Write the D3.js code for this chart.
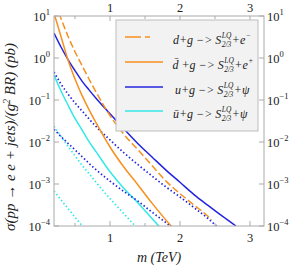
<html>
<script src="https://d3js.org/d3.v7.min.js"></script>
<style>
body {margin: 0; background: white;}
text {font-family: "Liberation Serif", "Times New Roman", serif; fill: #222;}
</style>
<body>
<svg width=292 height=266></svg>
<script>
// cross sections in pb vs leptoquark mass in TeV
var mDm = [0.27, 0.3, 0.4, 0.5, 0.6, 0.7, 0.8, 1.0, 1.2, 1.4, 1.6, 1.8, 2.0, 2.2, 2.4, 2.45];
var sDm = [11.7, 8.7, 3.31, 1.41, 0.661, 0.316, 0.155, 0.0427, 0.0151, 6.5e-3, 2.75e-3, 1.17e-3, 5.9e-4, 3.16e-4, 1.7e-4, 1.41e-4];

var mDbar = [0.2, 0.3, 0.4, 0.5, 0.6, 0.7, 0.8, 1.0, 1.2, 1.4, 1.6, 1.8, 1.9];
var sDbar = [11.7, 3.25, 0.895, 0.316, 0.129, 0.0589, 0.0288, 7.6e-3, 2.5e-3, 9.5e-4, 3.5e-4, 1.38e-4, 8.9e-5];

var mU = [0.2, 0.3, 0.4, 0.5, 0.6, 0.7, 0.8, 1.0, 1.2, 1.4, 1.6, 1.8, 2.0, 2.2, 2.4, 2.6, 2.8];
var sU = [3.94, 1.83, 0.92, 0.50, 0.282, 0.174, 0.110, 0.0468, 0.0204, 9.1e-3, 4.4e-3, 2.14e-3, 1.1e-3, 5.6e-4, 3.1e-4, 1.74e-4, 1.0e-4];

var mU2 = [0.2, 0.3, 0.4, 0.5, 0.6, 0.7, 0.8, 1.0, 1.2, 1.4, 1.6, 1.8, 2.0, 2.2, 2.4, 2.52];
var sU2 = [0.464, 0.24, 0.139, 0.0851, 0.055, 0.0355, 0.0234, 0.0112, 5.5e-3, 2.88e-3, 1.55e-3, 8.5e-4, 4.9e-4, 2.75e-4, 1.51e-4, 1.0e-4];

var mU3 = [0.2, 0.3, 0.4, 0.5, 0.6, 0.7, 0.8, 1.0, 1.2, 1.4, 1.6, 1.8, 1.86];
var sU3 = [0.02, 0.0135, 9.3e-3, 6.5e-3, 4.5e-3, 3.1e-3, 2.2e-3, 1.17e-3, 6.6e-4, 3.9e-4, 2.14e-4, 1.2e-4, 1.0e-4];

var mUbar = [0.2, 0.3, 0.4, 0.5, 0.6, 0.7, 0.8, 1.0, 1.2, 1.4, 1.6, 1.7];
var sUbar = [0.394, 0.164, 0.0759, 0.0363, 0.0195, 0.0102, 5.9e-3, 1.95e-3, 7.8e-4, 3.55e-4, 1.51e-4, 9.8e-5];

var mUbar2 = [0.2, 0.3, 0.4, 0.5, 0.6, 0.7, 0.8, 1.0, 1.2, 1.36];
var sUbar2 = [0.0237, 0.0136, 7.9e-3, 4.7e-3, 2.8e-3, 1.78e-3, 1.1e-3, 4.5e-4, 1.95e-4, 1.0e-4];

var mUbar3 = [0.2, 0.3, 0.4, 0.5, 0.6];
var sUbar3 = [6.8e-4, 4.2e-4, 2.6e-4, 1.62e-4, 1.02e-4];

var xTicks = [1, 2, 3];
var xMinor = [0.5, 1.5, 2.5];
var yExp = [1, 0, -1, -2, -3, -4];

var orange = "#f7901e", blue = "#2424e0", cyan = "#33e8e8";

var svg = d3.select("svg");
var pL = 54, pR = 264, pT = 16, pB = 226;

var xscale = d3.scaleLinear().domain([0.2, 3.2]).range([pL, pR]);
var yscale = d3.scaleLog().domain([1e-4, 10]).range([pB, pT]);

svg.append("clipPath").attr("id", "plotclip")
  .append("rect").attr("x", pL).attr("y", pT).attr("width", pR - pL).attr("height", pB - pT);

//curves
var dots = "1.5,2.3";
var series = [
  {m: mUbar3, s: sUbar3, color: cyan, dash: dots},
  {m: mUbar2, s: sUbar2, color: cyan, dash: dots},
  {m: mUbar, s: sUbar, color: cyan, dash: null},
  {m: mU3, s: sU3, color: blue, dash: dots},
  {m: mU2, s: sU2, color: blue, dash: dots},
  {m: mU, s: sU, color: blue, dash: null},
  {m: mDbar, s: sDbar, color: orange, dash: null},
  {m: mDm, s: sDm, color: orange, dash: "7,3"}
];
var line = d3.line()
  .x(function(d) {return xscale(d[0]);})
  .y(function(d) {return yscale(d[1]);})
  .curve(d3.curveMonotoneX);

var curves = svg.append("g").attr("clip-path", "url(#plotclip)");
series.forEach(function(sr) {
  curves.append("path")
    .datum(d3.zip(sr.m, sr.s))
    .attr("d", line)
    .attr("fill", "none")
    .attr("stroke", sr.color)
    .attr("stroke-width", sr.dash == dots ? 1.7 : 1.5)
    .attr("stroke-dasharray", sr.dash);
});

//frame and ticks
var frame = "#aaaaaa";
svg.append("rect").attr("x", pL).attr("y", pT).attr("width", pR - pL).attr("height", pB - pT)
  .attr("fill", "none").attr("stroke", frame).attr("stroke-width", 1);

var ax = svg.append("g").attr("stroke", frame).attr("stroke-width", 1);
xTicks.forEach(function(v) {
  var x = xscale(v);
  ax.append("line").attr("x1", x).attr("x2", x).attr("y1", pB).attr("y2", pB - 5);
  ax.append("line").attr("x1", x).attr("x2", x).attr("y1", pT).attr("y2", pT + 5);
});
xMinor.forEach(function(v) {
  var x = xscale(v);
  ax.append("line").attr("x1", x).attr("x2", x).attr("y1", pB).attr("y2", pB - 3);
  ax.append("line").attr("x1", x).attr("x2", x).attr("y1", pT).attr("y2", pT + 3);
});
yExp.forEach(function(e) {
  var y = yscale(Math.pow(10, e));
  ax.append("line").attr("x1", pL).attr("x2", pL + 5).attr("y1", y).attr("y2", y);
  ax.append("line").attr("x1", pR).attr("x2", pR - 5).attr("y1", y).attr("y2", y);
});

//tick labels
xTicks.forEach(function(v) {
  svg.append("text").attr("x", xscale(v)).attr("y", 242).attr("text-anchor", "middle")
    .style("font-size", "12.5px").text(v);
  svg.append("text").attr("x", xscale(v)).attr("y", 12).attr("text-anchor", "middle")
    .style("font-size", "12.5px").text(v);
});
yExp.forEach(function(e) {
  var y = yscale(Math.pow(10, e)) + 4.5;
  var sup = e < 0 ? "\u2212" + (-e) : "" + e;
  var tl = svg.append("text").attr("x", 50).attr("y", y).attr("text-anchor", "end").style("font-size", "12.5px");
  tl.append("tspan").text("10");
  tl.append("tspan").attr("dy", -6).style("font-size", "8.5px").text(sup);
  var tr = svg.append("text").attr("x", 267).attr("y", y).style("font-size", "12.5px");
  tr.append("tspan").text("10");
  tr.append("tspan").attr("dy", -6).style("font-size", "8.5px").text(sup);
});

//axis titles
svg.append("text").attr("x", (pL + pR) / 2).attr("y", 262).attr("text-anchor", "middle")
  .style("font-size", "14px").style("font-style", "italic").text("m (TeV)");

var yl = svg.append("text").attr("transform", "translate(15,137) rotate(-90)").attr("text-anchor", "middle")
  .style("font-size", "15px").style("font-style", "italic");
yl.append("tspan").text("\u03c3(pp \u2192 e e + jets)/(g");
yl.append("tspan").attr("dy", -5).style("font-size", "10px").text("2");
yl.append("tspan").attr("dy", 5).text(" BR)  (pb)");

//legend
var legend = svg.append("g");
legend.append("rect").attr("x", 116).attr("y", 20).attr("width", 142).attr("height", 111)
  .attr("fill", "#f2f2f2").attr("stroke", "#bdbdbd").attr("stroke-width", 1);

var legendRows = [
  {color: orange, dash: "16,4", y: 37, parts: [{t: "d+g \u2212> S"}, {sup: "LQ", sub: "2/3"}, {t: "+e"}, {sup: "\u2212"}]},
  {color: orange, dash: null, y: 62, parts: [{t: "d\u0304 +g \u2212> S"}, {sup: "LQ", sub: "2/3"}, {t: "+e"}, {sup: "+"}]},
  {color: blue, dash: null, y: 87, parts: [{t: "u+g \u2212> S"}, {sup: "LQ", sub: "2/3"}, {t: "+\u03c8"}]},
  {color: cyan, dash: null, y: 111, parts: [{t: "u\u0304+g \u2212> S"}, {sup: "LQ", sub: "2/3"}, {t: "+\u03c8"}]}
];
var legendX = [173, 172.5, 175, 173];

function richLabel(g, x, y, parts, size) {
  var cx = x;
  parts.forEach(function(p) {
    if (p.t) {
      var t = g.append("text").attr("x", cx).attr("y", y).style("font-size", size + "px")
        .style("font-style", "italic").text(p.t);
      cx += t.node().getComputedTextLength();
    } else {
      var w = 0;
      if (p.sup) {
        var a = g.append("text").attr("x", cx + 0.5).attr("y", y - size * 0.42)
          .style("font-size", (size * 0.62) + "px").style("font-style", "italic").text(p.sup);
        w = Math.max(w, a.node().getComputedTextLength());
      }
      if (p.sub) {
        var b = g.append("text").attr("x", cx + 0.5).attr("y", y + size * 0.28)
          .style("font-size", (size * 0.62) + "px").style("font-style", "italic").text(p.sub);
        w = Math.max(w, b.node().getComputedTextLength());
      }
      cx += w + 1;
    }
  });
}

legendRows.forEach(function(r, i) {
  legend.append("line").attr("x1", 125).attr("x2", r.dash ? 150 : 163).attr("y1", r.y).attr("y2", r.y)
    .attr("stroke", r.color).attr("stroke-width", 1.5).attr("stroke-dasharray", r.dash);
  richLabel(legend, legendX[i], r.y + 6.5, r.parts, 12);
});
</script>
</body>
</html>
